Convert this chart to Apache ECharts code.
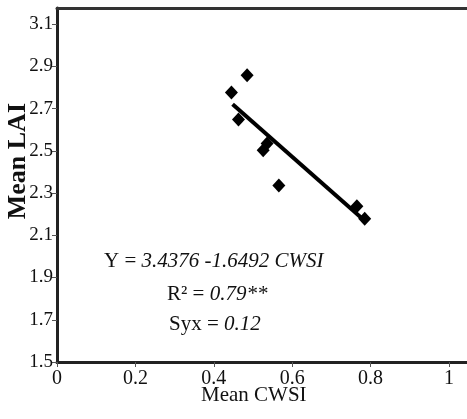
<!DOCTYPE html>
<html>
<head>
<meta charset="utf-8">
<script src="https://cdn.jsdelivr.net/npm/echarts@6/dist/echarts.min.js"></script>
<style>
  html, body { margin: 0; padding: 0; background: #fff; }
  #chart { width: 467px; height: 419px; }
</style>
</head>
<body>
<div id="chart"></div>
<script>
// observed points (Mean CWSI, Mean LAI)
let cwsi = [0.485, 0.445, 0.463, 0.526, 0.536, 0.566, 0.765, 0.785];
let lai = [2.858, 2.776, 2.648, 2.502, 2.534, 2.336, 2.237, 2.178];
// fitted line end points
let fitX = [0.448, 0.79];
let fitY = [2.72, 2.16];

let eqText = ["Y = ", "3.4376 -1.6492 CWSI"];
let r2Text = ["R² = ", "0.79**"];
let syxText = ["Syx = ", "0.12"];

let font = "Liberation Serif";

let pts = cwsi.map((v, i) => [v, lai[i]]);
let fit = fitX.map((v, i) => [v, fitY[i]]);

let chart = echarts.init(document.getElementById("chart"));

function rich(parts) {
  return {
    type: "text",
    style: {
      text: "{a|" + parts[0] + "}{b|" + parts[1] + "}",
      rich: {
        a: { fontFamily: font, fontSize: 21, fill: "#111" },
        b: { fontFamily: font, fontSize: 21, fontStyle: "italic", fill: "#111" }
      }
    }
  };
}

let t1 = rich(eqText); t1.left = 104; t1.top = 251;
let t2 = rich(r2Text); t2.left = 167; t2.top = 284;
let t3 = rich(syxText); t3.left = 169; t3.top = 314;

chart.setOption({
  animation: false,
  grid: { left: 57, right: 0, top: 8, bottom: 57 },
  xAxis: [{
    type: "value",
    min: 0,
    max: 1.046,
    interval: 0.2,
    splitLine: { show: false },
    axisLine: { lineStyle: { color: "#222", width: 3 } },
    axisTick: { length: 5, lineStyle: { color: "#555", width: 1 } },
    axisLabel: {
      showMaxLabel: false,
      fontFamily: font, fontSize: 20, color: "#111", margin: 7,
      formatter: (v) => String(Math.round(v * 10) / 10)
    }
  }, {
    type: "value",
    position: "top",
    min: 0,
    max: 1.046,
    splitLine: { show: false },
    axisLine: { lineStyle: { color: "#333", width: 3 } },
    axisTick: { show: false },
    axisLabel: { show: false }
  }],
  yAxis: {
    type: "value",
    min: 1.5,
    max: 3.176,
    interval: 0.2,
    splitLine: { show: false },
    axisLine: { lineStyle: { color: "#222", width: 3 } },
    axisTick: { length: 5, lineStyle: { color: "#555", width: 1 } },
    axisLabel: {
      showMaxLabel: false,
      fontFamily: font, fontSize: 19, color: "#111", margin: 4,
      formatter: (v) => v.toFixed(1)
    }
  },
  graphic: [
    {
      type: "text",
      left: 5, top: 103,
      rotation: Math.PI / 2,
      style: {
        text: "Mean LAI",
        fontFamily: font, fontSize: 26, fontWeight: "bold", fill: "#111"
      }
    },
    {
      type: "text",
      left: 201, top: 385,
      style: { text: "Mean CWSI", fontFamily: font, fontSize: 21, fill: "#111" }
    },
    t1, t2, t3
  ],
  series: [
    {
      type: "scatter",
      data: pts,
      symbol: "diamond",
      symbolSize: [13, 14],
      itemStyle: { color: "#000", opacity: 1 }
    },
    {
      type: "line",
      data: fit,
      symbol: "none",
      lineStyle: { color: "#000", width: 4 }
    }
  ]
});
</script>
</body>
</html>
